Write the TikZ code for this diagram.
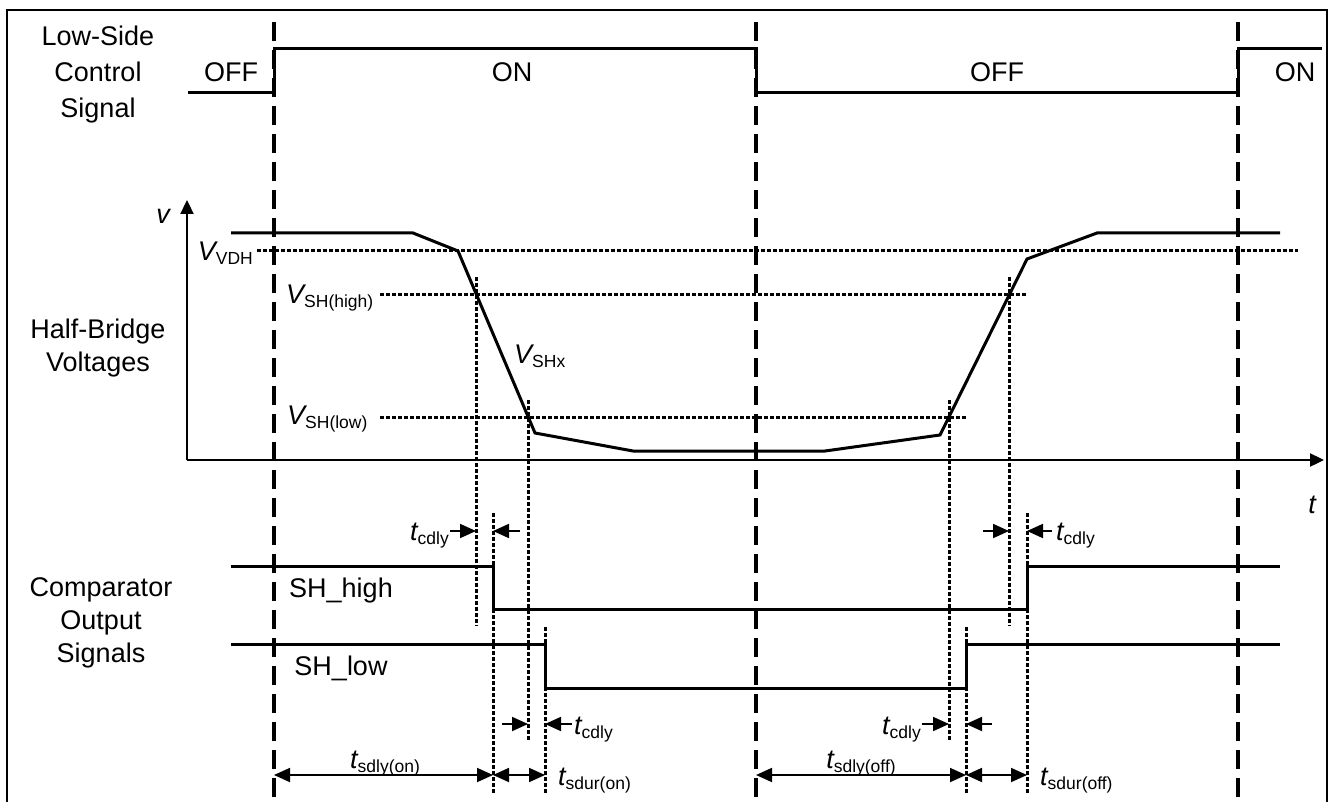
\documentclass[tikz,border=0pt]{standalone}
\usepackage{fontspec}
\setmainfont{Liberation Sans}
\usetikzlibrary{arrows.meta}
\newcommand{\mysub}[2]{{\itshape #1}\raisebox{-4pt}{\fontsize{17.5}{20}\selectfont #2}}
\tikzset{
  sigline/.style={line width=3pt},
  longdash/.style={line width=3.2pt, dash pattern=on 19pt off 9pt},
  dotline/.style={line width=3pt, dash pattern=on 4pt off 2pt},
  axisline/.style={line width=2.3pt, -{Triangle[length=14pt,width=13pt]}},
  dimarrow/.style={line width=1.8pt, {Triangle[length=16pt,width=14pt]}-{Triangle[length=16pt,width=14pt]}},
  cdarrow/.style={line width=1.8pt, -{Triangle[length=16pt,width=14pt]}},
  txt/.style={font=\fontsize{27}{31}\selectfont, inner sep=0pt}
}
\begin{document}
\begin{tikzpicture}[x=1pt,y=-1pt]
\useasboundingbox (0,0) rectangle (1332,802);
% frame
\draw[line width=1.3pt] (7,805) -- (7,10) -- (1327,10) -- (1327,805);

% long dashed time markers
\foreach \n/\x in {da/274, db/756, dc/1238}{
  \coordinate (\n top) at (\x,22);
  \coordinate (\n bot) at (\x,802);
  \draw[longdash] (\n top) -- (\n bot);
}

% left labels
\node[txt, anchor=base] (ls1) at (98,46) {Low-Side};
\node[txt, anchor=base] (ls2) at (98,82) {Control};
\node[txt, anchor=base] (ls3) at (98,118) {Signal};
\node[txt, anchor=base] (hb1) at (98,338) {Half-Bridge};
\node[txt, anchor=base] (hb2) at (98,371) {Voltages};
\node[txt, anchor=base] (co1) at (101,596) {Comparator};
\node[txt, anchor=base] (co2) at (101,629) {Output};
\node[txt, anchor=base] (co3) at (101,662) {Signals};

% control signal
\coordinate (c0) at (188,93);
\coordinate (c1) at (274,93);
\coordinate (c2) at (274,49);
\coordinate (c3) at (756,49);
\coordinate (c4) at (756,93);
\coordinate (c5) at (1238,93);
\coordinate (c6) at (1238,49);
\coordinate (c7) at (1322,49);
\draw[sigline] (c0) -- (c1) -- (c2) -- (c3) -- (c4) -- (c5) -- (c6) -- (c7);
\node[txt, anchor=base] (off1) at (231,82) {OFF};
\node[txt, anchor=base] (on1) at (512,82) {ON};
\node[txt, anchor=base] (off2) at (997,82) {OFF};
\node[txt, anchor=base] (on2) at (1295,82) {ON};

% axes
\coordinate (org) at (187,460);
\coordinate (vtip) at (187,200);
\coordinate (ttip) at (1324,460);
\draw[axisline] (org) -- (vtip);
\draw[axisline] (org) -- (ttip);
\node[txt, anchor=center] (vlab) at (163,216) {\itshape v};
\node[txt, anchor=center] (tlab) at (1312,505) {\itshape t};

% threshold lines
\coordinate (vdhA) at (257,251);  \coordinate (vdhB) at (1298,251);
\coordinate (vhiA) at (380,294);  \coordinate (vhiB) at (1027,294);
\coordinate (vloA) at (380,417);  \coordinate (vloB) at (966,417);
\draw[dotline] (vdhA) -- (vdhB);
\draw[dotline] (vhiA) -- (vhiB);
\draw[dotline] (vloA) -- (vloB);
\node[txt, anchor=base east] (lvdh) at (253,260) {\mysub{V}{VDH}};
\node[txt, anchor=base west] (lvhi) at (286,303) {\mysub{V}{SH(high)}};
\node[txt, anchor=base west] (lvlo) at (287,424) {\mysub{V}{SH(low)}};

% VSHx waveform
\draw[sigline] (231,233) -- (413,233) -- (458,251) -- (535,433) -- (633,451)
  -- (825,451) -- (940,435) -- (1027,259) -- (1097,233) -- (1280,233);
\node[txt, anchor=base west] (lvshx) at (514,363) {\mysub{V}{SHx}};

% vertical dotted lines
\foreach \n/\x/\ya/\yb in {p/476/277/626, q/528/400/740, r/493/513/793, s/545/627/793,
                            u/949/400/740, w/1009/277/626, y/966/627/793, z/1027/513/793}{
  \coordinate (\n top) at (\x,\ya);
  \coordinate (\n bot) at (\x,\yb);
  \draw[dotline] (\n top) -- (\n bot);
}

% comparator outputs
\draw[sigline] (231,566) -- (493,566) -- (493,609) -- (1027,609) -- (1027,566) -- (1280,566);
\draw[sigline] (231,644) -- (545,644) -- (545,688) -- (966,688) -- (966,644) -- (1280,644);
\node[txt, anchor=base] (shh) at (341,597) {SH\_high};
\node[txt, anchor=base] (shl) at (341,675) {SH\_low};

% t_cdly arrows
\coordinate (a1s) at (450,531); \coordinate (a1e) at (476,531);
\coordinate (a2s) at (520,531); \coordinate (a2e) at (493,531);
\draw[cdarrow] (a1s) -- (a1e);
\draw[cdarrow] (a2s) -- (a2e);
\node[txt, anchor=base east] (tc1) at (449,540) {\mysub{t}{cdly}};

\coordinate (b1s) at (502,724); \coordinate (b1e) at (528,724);
\coordinate (b2s) at (572,724); \coordinate (b2e) at (545,724);
\draw[cdarrow] (b1s) -- (b1e);
\draw[cdarrow] (b2s) -- (b2e);
\node[txt, anchor=base west] (tc2) at (574,734) {\mysub{t}{cdly}};

\coordinate (c1s) at (983,531); \coordinate (c1e) at (1009,531);
\coordinate (c2s) at (1052,531); \coordinate (c2e) at (1027,531);
\draw[cdarrow] (c1s) -- (c1e);
\draw[cdarrow] (c2s) -- (c2e);
\node[txt, anchor=base west] (tc3) at (1056,540) {\mysub{t}{cdly}};

\coordinate (d1s) at (922,724); \coordinate (d1e) at (949,724);
\coordinate (d2s) at (992,724); \coordinate (d2e) at (966,724);
\draw[cdarrow] (d1s) -- (d1e);
\draw[cdarrow] (d2s) -- (d2e);
\node[txt, anchor=base east] (tc4) at (921,734) {\mysub{t}{cdly}};

% dimension arrows
\coordinate (m1) at (274,775); \coordinate (m2) at (493,775); \coordinate (m3) at (545,775);
\coordinate (m4) at (756,775); \coordinate (m5) at (966,775); \coordinate (m6) at (1027,775);
\draw[dimarrow] (m1) -- (m2);
\draw[dimarrow] (m2) -- (m3);
\draw[dimarrow] (m4) -- (m5);
\draw[dimarrow] (m5) -- (m6);
\node[txt, anchor=base] (ts1) at (385,768) {\mysub{t}{sdly(on)}};
\node[txt, anchor=base west] (ts2) at (558,785) {\mysub{t}{sdur(on)}};
\node[txt, anchor=base] (ts3) at (861,768) {\mysub{t}{sdly(off)}};
\node[txt, anchor=base west] (ts4) at (1040,785) {\mysub{t}{sdur(off)}};
\end{tikzpicture}
\end{document}
